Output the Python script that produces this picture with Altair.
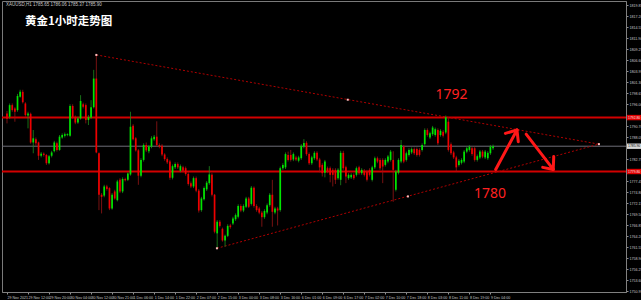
import json
import altair as alt
import pandas as pd

# ---------------- data ----------------
opens = [1793.8, 1793.0, 1795.8, 1795.0, 1794.6, 1797.8, 1799.0, 1796.2, 1793.3, 1793.7,
         1786.8, 1787.6, 1786.8, 1783.6, 1784.1, 1783.8, 1781.8, 1783.6, 1784.7, 1786.6,
         1785.0, 1788.0, 1788.4, 1788.6, 1788.4, 1795.6, 1793.0, 1791.6, 1792.6, 1796.0,
         1795.8, 1792.2, 1792.8, 1795.3, 1802.2, 1784.2, 1774.2, 1774.0, 1776.2, 1775.8,
         1770.9, 1775.0, 1772.9, 1777.8, 1775.0, 1778.0, 1777.8, 1779.1, 1790.8, 1787.8,
         1784.9, 1778.8, 1782.6, 1786.2, 1784.7, 1785.8, 1787.6, 1788.2, 1786.2, 1786.0,
         1783.9, 1782.8, 1782.2, 1778.3, 1780.8, 1781.6, 1780.0, 1780.8, 1780.6, 1779.2,
         1777.0, 1776.2, 1778.2, 1775.2, 1770.5, 1773.1, 1775.5, 1777.0, 1779.0, 1774.2,
         1764.9, 1767.7, 1766.0, 1763.2, 1764.3, 1766.8, 1767.3, 1768.3, 1768.9, 1771.5,
         1770.4, 1771.3, 1773.3, 1772.0, 1775.9, 1771.5, 1770.9, 1769.9, 1768.8, 1769.9,
         1771.7, 1774.2, 1769.9, 1770.9, 1770.5, 1780.6, 1780.8, 1783.8, 1783.8, 1782.7,
         1783.2, 1782.4, 1783.0, 1785.8, 1786.7, 1784.0, 1781.8, 1783.0, 1784.3, 1782.7,
         1781.4, 1779.5, 1780.6, 1780.6, 1780.2, 1780.2, 1778.2, 1777.8, 1784.3, 1780.8,
         1778.2, 1778.4, 1779.0, 1779.0, 1780.8, 1779.4, 1780.0, 1779.8, 1780.2, 1777.8,
         1780.8, 1783.0, 1782.6, 1782.6, 1781.4, 1782.2, 1782.6, 1782.6, 1775.4, 1779.5,
         1782.2, 1785.8, 1782.6, 1783.8, 1784.4, 1785.2, 1785.2, 1785.0, 1785.0, 1786.4,
         1789.8, 1788.0, 1788.8, 1788.6, 1789.8, 1788.6, 1789.4, 1789.2, 1791.8, 1786.4,
         1784.4, 1783.2, 1781.4, 1781.9, 1782.2, 1784.6, 1785.0, 1785.4, 1785.4, 1782.6,
         1783.2, 1784.6, 1783.2, 1783.0, 1784.2, 1785.4]
highs = [1794.4, 1796.2, 1796.2, 1795.3, 1798.5, 1799.5, 1799.5, 1796.5, 1794.2, 1794.0,
         1789.8, 1788.0, 1787.0, 1784.5, 1784.4, 1784.0, 1783.8, 1784.8, 1787.2, 1787.0,
         1788.6, 1789.0, 1789.2, 1789.0, 1796.0, 1796.0, 1793.3, 1793.0, 1798.2, 1796.4,
         1796.2, 1793.4, 1797.0, 1804.3, 1807.9, 1784.4, 1774.6, 1776.6, 1776.6, 1776.0,
         1774.6, 1775.4, 1777.8, 1778.2, 1778.4, 1778.3, 1779.6, 1794.2, 1791.2, 1788.1,
         1785.2, 1783.0, 1786.6, 1786.8, 1786.2, 1788.3, 1788.6, 1791.9, 1786.6, 1786.4,
         1784.2, 1783.2, 1782.6, 1781.5, 1782.0, 1782.0, 1781.5, 1781.2, 1781.0, 1779.6,
         1777.4, 1778.6, 1778.6, 1775.6, 1773.7, 1776.2, 1777.5, 1781.1, 1779.4, 1774.4,
         1768.1, 1768.1, 1766.3, 1764.6, 1767.1, 1767.2, 1768.9, 1769.7, 1771.9, 1771.9,
         1771.9, 1773.7, 1773.7, 1776.3, 1776.2, 1771.9, 1771.3, 1770.3, 1770.7, 1772.1,
         1774.6, 1777.8, 1771.3, 1771.3, 1781.0, 1781.8, 1784.4, 1784.6, 1785.0, 1784.4,
         1783.6, 1783.6, 1786.4, 1787.6, 1787.1, 1784.4, 1783.6, 1784.7, 1784.7, 1783.1,
         1781.8, 1782.6, 1781.0, 1781.0, 1780.6, 1780.6, 1780.6, 1784.8, 1784.8, 1781.2,
         1779.4, 1779.4, 1779.4, 1781.0, 1781.2, 1780.6, 1780.4, 1780.2, 1780.6, 1781.2,
         1783.4, 1783.4, 1783.0, 1783.0, 1783.0, 1783.8, 1785.0, 1784.7, 1780.2, 1783.0,
         1787.4, 1786.2, 1784.6, 1785.4, 1785.6, 1785.6, 1785.6, 1785.4, 1786.6, 1790.2,
         1790.2, 1789.4, 1790.8, 1790.4, 1790.2, 1790.0, 1789.8, 1793.3, 1792.6, 1786.8,
         1784.8, 1783.6, 1782.8, 1783.0, 1785.0, 1785.8, 1786.2, 1785.8, 1785.8, 1783.9,
         1785.0, 1785.0, 1785.0, 1784.7, 1786.2, 1786.3]
lows = [1791.4, 1792.5, 1794.2, 1791.8, 1794.2, 1797.6, 1796.2, 1793.0, 1790.2, 1786.5,
        1784.2, 1786.0, 1782.6, 1783.2, 1783.4, 1781.4, 1781.5, 1783.2, 1784.4, 1784.6,
        1784.8, 1787.7, 1788.0, 1788.3, 1788.2, 1792.5, 1791.2, 1791.3, 1792.3, 1795.0,
        1791.4, 1791.0, 1792.5, 1795.0, 1784.2, 1770.5, 1769.7, 1773.6, 1775.2, 1770.5,
        1770.6, 1773.0, 1772.6, 1774.6, 1774.6, 1777.4, 1777.5, 1778.8, 1787.3, 1784.6,
        1776.6, 1778.4, 1782.2, 1784.5, 1784.2, 1785.4, 1787.2, 1785.8, 1785.4, 1783.5,
        1782.4, 1781.6, 1777.8, 1777.9, 1780.4, 1780.4, 1779.6, 1779.6, 1778.8, 1776.4,
        1775.8, 1775.8, 1774.8, 1769.9, 1770.1, 1772.8, 1775.1, 1776.6, 1773.8, 1764.9,
        1761.3, 1766.3, 1762.9, 1761.7, 1764.0, 1766.0, 1766.9, 1767.9, 1768.5, 1770.0,
        1770.0, 1771.0, 1771.0, 1771.6, 1771.1, 1770.1, 1769.5, 1766.5, 1768.4, 1769.5,
        1771.3, 1766.5, 1769.5, 1766.8, 1770.1, 1780.2, 1780.4, 1782.2, 1782.2, 1782.3,
        1782.3, 1782.0, 1782.6, 1785.4, 1783.6, 1781.4, 1781.4, 1782.6, 1782.3, 1779.6,
        1778.6, 1778.4, 1779.4, 1777.2, 1776.2, 1776.8, 1777.8, 1776.5, 1780.2, 1777.0,
        1777.8, 1778.0, 1777.8, 1778.6, 1779.0, 1779.0, 1778.6, 1777.4, 1778.6, 1777.4,
        1780.4, 1781.8, 1780.2, 1777.0, 1781.0, 1781.8, 1782.2, 1772.5, 1775.0, 1779.1,
        1781.8, 1781.8, 1782.2, 1783.4, 1784.0, 1783.8, 1783.4, 1783.4, 1784.6, 1786.0,
        1788.2, 1787.6, 1788.4, 1788.2, 1786.2, 1788.2, 1788.0, 1788.8, 1784.6, 1783.8,
        1782.8, 1779.8, 1781.0, 1781.5, 1781.8, 1784.2, 1784.6, 1783.6, 1782.2, 1782.2,
        1782.8, 1783.0, 1782.8, 1782.6, 1783.8, 1785.0]
closes = [1792.5, 1795.8, 1794.6, 1794.2, 1798.0, 1799.0, 1796.5, 1793.4, 1793.8, 1786.8,
          1787.8, 1786.6, 1783.6, 1784.1, 1783.8, 1781.8, 1783.5, 1784.4, 1786.8, 1785.0,
          1788.2, 1788.6, 1788.8, 1788.8, 1795.6, 1792.8, 1791.6, 1792.6, 1796.8, 1795.4,
          1792.2, 1792.9, 1795.3, 1802.2, 1784.4, 1774.2, 1773.7, 1776.2, 1775.6, 1770.9,
          1774.2, 1773.3, 1777.4, 1775.0, 1778.0, 1777.7, 1779.3, 1790.6, 1787.6, 1784.9,
          1778.8, 1782.6, 1786.2, 1784.9, 1785.8, 1787.8, 1788.2, 1786.2, 1785.8, 1783.9,
          1782.8, 1782.0, 1778.3, 1781.1, 1781.6, 1780.8, 1781.1, 1780.0, 1779.2, 1776.8,
          1776.2, 1778.2, 1775.2, 1770.4, 1773.3, 1775.8, 1777.1, 1779.1, 1774.2, 1765.3,
          1767.7, 1766.7, 1763.2, 1764.3, 1766.7, 1766.4, 1768.5, 1769.3, 1771.5, 1770.4,
          1771.5, 1773.3, 1771.3, 1775.9, 1771.5, 1770.5, 1769.9, 1768.8, 1770.3, 1771.7,
          1774.2, 1770.1, 1770.9, 1770.4, 1780.6, 1781.4, 1784.0, 1782.6, 1782.6, 1784.0,
          1782.7, 1783.2, 1786.0, 1786.7, 1784.0, 1781.8, 1783.2, 1784.3, 1782.7, 1780.8,
          1779.4, 1782.2, 1779.8, 1779.0, 1779.0, 1777.8, 1780.2, 1784.3, 1780.6, 1778.6,
          1779.0, 1779.0, 1778.2, 1780.6, 1779.4, 1780.2, 1779.0, 1777.8, 1779.0, 1780.8,
          1783.0, 1782.2, 1780.6, 1781.0, 1782.6, 1783.4, 1784.6, 1780.2, 1779.8, 1782.6,
          1786.2, 1782.2, 1784.2, 1785.0, 1785.2, 1784.2, 1783.8, 1783.8, 1786.2, 1789.8,
          1788.6, 1789.0, 1790.4, 1790.0, 1786.6, 1789.6, 1788.4, 1792.9, 1785.0, 1784.2,
          1783.2, 1780.8, 1782.4, 1782.6, 1784.6, 1785.4, 1785.8, 1784.0, 1782.6, 1783.5,
          1784.6, 1783.4, 1784.6, 1784.3, 1785.8, 1785.9]

time_labels = ["29 Nov 2021", "29 Nov 12:00", "29 Nov 20:00", "30 Nov 04:00", "30 Nov 12:00",
               "30 Nov 21:00", "1 Dec 06:00", "1 Dec 14:00", "1 Dec 22:00", "2 Dec 07:00",
               "2 Dec 15:00", "3 Dec 00:00", "3 Dec 08:00", "3 Dec 16:00", "6 Dec 01:00",
               "6 Dec 09:00", "6 Dec 17:00", "7 Dec 02:00", "7 Dec 10:00", "7 Dec 18:00",
               "8 Dec 03:00", "8 Dec 11:00", "8 Dec 19:00", "9 Dec 04:00"]
time_label_bars = [0, 8, 16, 24, 32, 40, 48, 56, 64, 72, 80, 88, 96, 104, 112, 120,
                   128, 136, 144, 152, 160, 168, 176, 184]
# scale labels (the ones hidden behind the price boxes are left out)
price_ticks = [1819.85, 1817.20, 1814.55, 1811.90, 1809.25, 1806.60, 1803.95, 1801.30,
               1798.65, 1796.00, 1790.70, 1788.05, 1782.75,
               1777.45, 1774.80, 1772.15, 1769.50, 1766.85, 1764.20, 1761.55, 1758.90,
               1756.25, 1753.60, 1750.95]

level_prices = [1792.8, 1779.8]
current_price = 1785.9

trend_names = ["upper", "upper", "lower", "lower"]
trend_bars = [34, 225.3, 79.9, 225.3]
trend_prices = [1807.9, 1786.4, 1761.3, 1786.4]
anchor_bars = [34, 129.7, 79.9, 152.6, 225.3]
anchor_prices = [1807.9, 1797.1, 1761.3, 1773.8, 1786.4]

arrow_x1 = [186.0, 189.7, 194.6, 197.6, 203.9, 208.1]
arrow_y1 = [1780.3, 1789.0, 1787.0, 1788.8, 1780.8, 1783.4]
arrow_x2 = [194.1, 194.1, 194.1, 207.9, 207.9, 207.9]
arrow_y2 = [1789.8, 1789.8, 1789.8, 1780.3, 1780.3, 1780.3]

note_texts = ["1792", "1780"]
note_bars = [169.2, 183.8]
note_prices = [1798.2, 1774.4]

header_text = "XAUUSD,H1  1785.65 1786.06 1785.37 1785.90"
title_text = "黄金1小时走势图"

# ---------------- chart ----------------
W, H = 624, 291
xs = alt.Scale(domain=[0, 233.7], nice=False, zero=False)
ys = alt.Scale(domain=[1750.77, 1820.89], nice=False, zero=False)

df = pd.DataFrame({"bar": list(range(len(opens))), "open": opens, "high": highs,
                   "low": lows, "close": closes})

label_expr = json.dumps(time_labels) + "[round(datum.value / 8)]"
x_axis = alt.Axis(values=time_label_bars, labelExpr=label_expr, title=None, grid=False,
                  labelAlign="left", labelFontSize=3.6, labelColor="#c8c8c8", labelPadding=1,
                  labelFlush=False, labelOverlap=False, tickSize=2, tickColor="#909090",
                  domainColor="#808080", labelFont="Liberation Sans")
y_axis = alt.Axis(values=price_ticks, format=".2f", orient="right", title=None, grid=False,
                  labelAlign="left", labelBaseline="middle", labelFontSize=3.6,
                  labelColor="#c8c8c8", labelPadding=1, labelFlush=False, labelOverlap=False,
                  tickSize=2, tickColor="#909090", domainColor="#808080",
                  labelFont="Liberation Sans")


def X(field):
    return alt.X(field, scale=xs, axis=x_axis)


def Y(field):
    return alt.Y(field, scale=ys, axis=y_axis)


up = "datum.close >= datum.open"

wicks = alt.Chart(df).mark_rule(strokeWidth=0.8).encode(
    x=X("bar:Q"), y=Y("low:Q"), y2="high:Q",
    color=alt.condition(up, alt.value("#1d8a1d"), alt.value("#951515")),
)
bodies = alt.Chart(df).mark_bar(size=1.7).encode(
    x=X("bar:Q"), y=Y("open:Q"), y2="close:Q",
    color=alt.condition(up, alt.value("#00e600"), alt.value("#ee0000")),
)

levels = alt.Chart(pd.DataFrame({"price": level_prices})).mark_rule(
    color="#d20000", strokeWidth=2).encode(y=Y("price:Q"))
current = alt.Chart(pd.DataFrame({"price": [current_price]})).mark_rule(
    color="#6e6e78", strokeWidth=1).encode(y=Y("price:Q"))

trend = alt.Chart(pd.DataFrame({"line": trend_names, "bar": trend_bars,
                                "price": trend_prices})).mark_line(
    color="#b00000", strokeWidth=1, strokeDash=[2, 2]).encode(
    x=X("bar:Q"), y=Y("price:Q"), detail="line:N")
anchors = alt.Chart(pd.DataFrame({"bar": anchor_bars, "price": anchor_prices})).mark_square(
    size=4, color="#ffc0c0", opacity=1).encode(x=X("bar:Q"), y=Y("price:Q"))

arrows = alt.Chart(pd.DataFrame({"x1": arrow_x1, "y1": arrow_y1, "x2": arrow_x2,
                                 "y2": arrow_y2})).mark_rule(
    color="#ff1818", strokeWidth=3, strokeCap="round").encode(
    x=X("x1:Q"), y=Y("y1:Q"), x2="x2:Q", y2="y2:Q")

notes = alt.Chart(pd.DataFrame({"t": note_texts, "bar": note_bars,
                                "price": note_prices})).mark_text(
    color="#ff2020", fontSize=14, font="Noto Sans").encode(
    x=X("bar:Q"), y=Y("price:Q"), text="t:N")

box_df = pd.DataFrame({"price": level_prices + [current_price],
                       "kind": ["level", "level", "current"]})
box_df["label"] = [f"{p:.2f}" for p in box_df["price"]]
boxes = alt.Chart(box_df).transform_calculate(
    hi="datum.price + 0.65", lo="datum.price - 0.65").mark_rect().encode(
    x=alt.value(W + 1), x2=alt.value(W + 15),
    y=Y("hi:Q"), y2="lo:Q",
    color=alt.condition("datum.kind == 'level'", alt.value("#e00000"), alt.value("#d8d8d8")))
box_text = alt.Chart(box_df).mark_text(align="left", baseline="middle", fontSize=3.4,
                                       font="Liberation Sans").encode(
    x=alt.value(W + 2), y=Y("price:Q"), text="label:N",
    color=alt.condition("datum.kind == 'level'", alt.value("#ffe0e0"), alt.value("#000000")))

header = alt.Chart(pd.DataFrame({"t": [header_text]})).mark_text(
    align="left", baseline="middle", fontSize=4.5, color="#c8c8c8",
    font="Liberation Sans").encode(x=alt.value(4), y=alt.value(4), text="t:N")
title = alt.Chart(pd.DataFrame({"t": [title_text]})).mark_text(
    align="left", baseline="middle", fontSize=11.5, fontWeight="bold", color="#ffffff",
    font="Noto Sans CJK SC").encode(x=alt.value(23), y=alt.value(21), text="t:N")

chart = alt.layer(current, levels, trend, wicks, bodies, anchors, arrows, notes,
                  boxes, box_text, header, title).properties(
    width=W, height=H, background="#000000",
    autosize=alt.AutoSizeParams(type="none"),
    padding={"left": 2, "top": 1, "right": 15, "bottom": 8},
).configure_view(stroke="#7a7a7a", strokeWidth=1)

chart.save("out.html", embed_options={"renderer": "svg", "actions": False})
